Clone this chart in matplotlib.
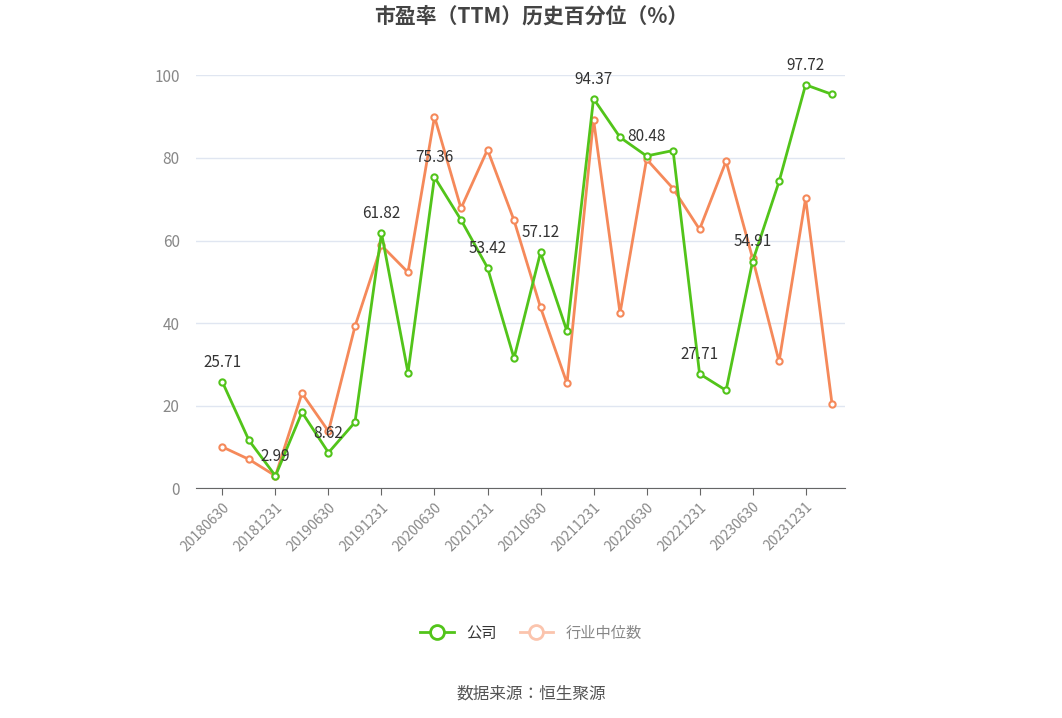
import matplotlib
matplotlib.use("Agg")
import matplotlib.pyplot as plt
from matplotlib import font_manager as fm
from matplotlib.lines import Line2D

cjk = None
for f in fm.fontManager.ttflist:
    if 'CJK' in f.name and ('SC' in f.name or cjk is None):
        cjk = f.name
        if 'SC' in f.name:
            break
if cjk is None:
    for p in fm.findSystemFonts():
        if 'CJK' in p:
            fm.fontManager.addfont(p)
            cjk = fm.FontProperties(fname=p).get_name()
            break
plt.rcParams['font.family'] = [cjk or 'Noto Sans CJK SC', 'DejaVu Sans']

dates = ["20180630","20180930","20181231","20190331","20190630","20190930","20191231","20200331",
         "20200630","20200930","20201231","20210331","20210630","20210930","20211231","20220331",
         "20220630","20220930","20221231","20230331","20230630","20230930","20231231","20240331"]
company = [25.71,11.6,2.99,18.4,8.62,16.0,61.82,28.0,75.36,65.0,53.42,31.5,57.12,38.0,94.37,85.0,
           80.48,81.8,27.71,23.7,54.91,74.3,97.72,95.4]
industry = [10.0,7.0,3.0,23.0,13.8,39.2,58.8,52.3,90.0,67.8,82.0,64.9,43.8,25.4,89.3,42.4,
            79.7,72.6,62.7,79.2,55.7,30.7,70.2,20.3]
labeled = [0,2,4,6,8,10,12,14,16,18,20,22]

fig = plt.figure(figsize=(10.62, 7.18), dpi=100)
ax = fig.add_axes([0.185, 0.320, 0.611, 0.575])
x = list(range(len(dates)))
ax.plot(x, industry, color='#f5895a', lw=2, marker='o', ms=4.5, mfc='white', mec='#f5895a', mew=1.5, zorder=2)
ax.plot(x, company, color='#52c41a', lw=2, marker='o', ms=4.5, mfc='white', mec='#52c41a', mew=1.5, zorder=3)
for i in labeled:
    ax.annotate(f"{company[i]:.2f}", (i, company[i]), xytext=(0, 8), textcoords='offset points',
                ha='center', va='bottom', fontsize=11, color='#333333')
ax.set_xlim(-0.98, 23.5)
ax.set_ylim(0, 100)
ax.set_yticks([0, 20, 40, 60, 80, 100])
ax.tick_params(axis='y', length=0, labelcolor='#888888', labelsize=11, pad=12)
ax.set_xticks(x[::2])
ax.set_xticklabels(dates[::2], rotation=45, ha='right', rotation_mode='anchor', color='#888888', fontsize=10)
ax.tick_params(axis='x', color='#666666', length=5)
ax.grid(axis='y', color='#e0e6f1', lw=1)
for s in ['top', 'right', 'left']:
    ax.spines[s].set_visible(False)
ax.spines['bottom'].set_color('#666666')
ax.set_axisbelow(True)

h1 = Line2D([], [], color='#52c41a', lw=2, marker='o', ms=10, mfc='white', mec='#52c41a', mew=2)
h2 = Line2D([], [], color='#fbc4ad', lw=2, marker='o', ms=10, mfc='white', mec='#fbc4ad', mew=2)
leg = fig.legend([h1, h2], ['公司', '行业中位数'], loc='center', bbox_to_anchor=(0.5, 0.118), ncol=2, frameon=False,
           fontsize=11, handlelength=2.2, columnspacing=1.5)
leg.get_texts()[0].set_color('#333333')
leg.get_texts()[1].set_color('#888888')
fig.text(0.5, 0.977, "市盈率（TTM）历史百分位（%）", ha='center', va='center', fontsize=15, fontweight='bold', color='#444444')
fig.text(0.5, 0.033, "数据来源：恒生聚源", ha='center', va='center', fontsize=12, color='#555555')
fig.savefig("out.png", dpi=100)
